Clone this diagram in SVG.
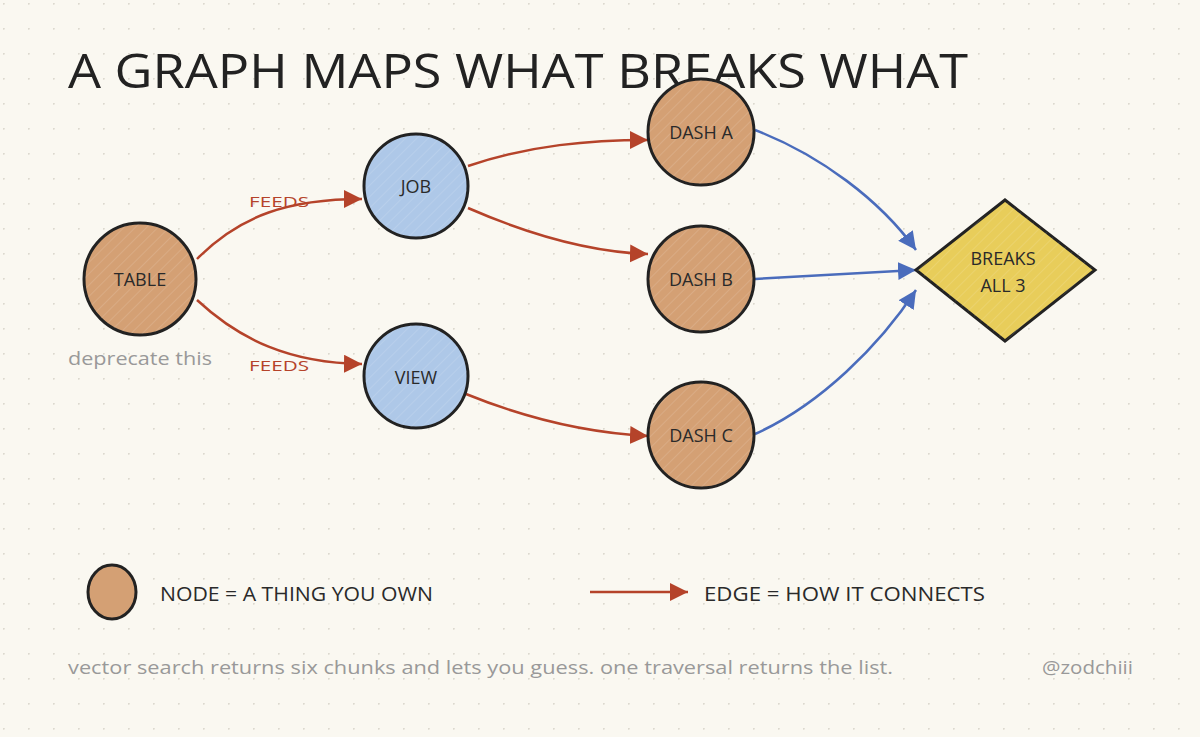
<svg xmlns="http://www.w3.org/2000/svg" width="1200" height="737" viewBox="0 0 1200 737">
<defs>
<pattern id="dots" x="3" y="3" width="25" height="25" patternUnits="userSpaceOnUse"><circle cx="0.8" cy="0.8" r="1" fill="#dcd9cf"/></pattern>
<pattern id="hatch" width="8" height="8" patternUnits="userSpaceOnUse" patternTransform="rotate(45)"><line x1="0" y1="0" x2="0" y2="8" stroke="#ffffff" stroke-opacity="0.12" stroke-width="2"/></pattern>
<marker id="ar" markerUnits="userSpaceOnUse" markerWidth="20" markerHeight="20" refX="18" refY="9" orient="auto"><path d="M0,0 L18,9 L0,18 z" fill="#b5432a"/></marker>
<marker id="ab" markerUnits="userSpaceOnUse" markerWidth="20" markerHeight="20" refX="18" refY="9" orient="auto"><path d="M0,0 L18,9 L0,18 z" fill="#4a6cbc"/></marker>
<style>
.bg{fill:#faf8f1}
.nd{stroke:#222;stroke-width:3}
.or{fill:#d4a074}
.bl{fill:#aec8e8}
.ye{fill:#e8cd5a}
.lbl{font-family:"Open Sans","Liberation Sans",sans-serif;font-size:18px;fill:#2a2a2a;text-anchor:middle;dominant-baseline:central}
.er{fill:none;stroke:#b5432a;stroke-width:2.5;marker-end:url(#ar)}
.eb{fill:none;stroke:#4a6cbc;stroke-width:2.5;marker-end:url(#ab)}
.feeds{font-family:"Open Sans","Liberation Sans",sans-serif;font-size:15px;fill:#b5432a}
.gray{font-family:"Open Sans","Liberation Sans",sans-serif;fill:#999}
.leg{font-family:"Open Sans","Liberation Sans",sans-serif;font-size:20px;fill:#2a2a2a}
</style>
</defs>
<rect class="bg" width="1200" height="737"/>
<rect fill="url(#dots)" width="1200" height="737"/>
<text x="68" y="88" font-family="Open Sans, Liberation Sans, sans-serif" font-size="48" fill="#222" textLength="900" lengthAdjust="spacingAndGlyphs">A GRAPH MAPS WHAT BREAKS WHAT</text>
<g id="connectors">
<path class="er" d="M197,259 C240,215 290,199 362,199"/>
<path class="er" d="M197,300 C240,340 290,363 362,364"/>
<path class="er" d="M468,166 C530,145 590,140 648,140"/>
<path class="er" d="M468,208 C530,235 590,252 648,254"/>
<path class="er" d="M466,394 C530,420 590,433 648,436"/>
<path class="eb" d="M755,130 C820,155 880,200 916,250"/>
<path class="eb" d="M755,279 L916,270"/>
<path class="eb" d="M755,434 C820,405 880,345 916,290"/>
<text class="feeds" x="249" y="207" textLength="60" lengthAdjust="spacingAndGlyphs">FEEDS</text>
<text class="feeds" x="249" y="371" textLength="60" lengthAdjust="spacingAndGlyphs">FEEDS</text>
</g>
<g id="table"><circle class="nd or" cx="140" cy="279" r="56"/><circle cx="140" cy="279" r="55" fill="url(#hatch)"/><text class="lbl" x="140" y="279">TABLE</text>
<text class="gray" x="68" y="365" font-size="19" textLength="144" lengthAdjust="spacingAndGlyphs">deprecate this</text></g>
<g id="job"><circle class="nd bl" cx="416" cy="186" r="52"/><circle cx="416" cy="186" r="51" fill="url(#hatch)"/><text class="lbl" x="416" y="186">JOB</text></g>
<g id="view"><circle class="nd bl" cx="416" cy="376" r="52"/><circle cx="416" cy="376" r="51" fill="url(#hatch)"/><text class="lbl" x="416" y="377">VIEW</text></g>
<g id="dasha"><circle class="nd or" cx="701" cy="132" r="53"/><circle cx="701" cy="132" r="52" fill="url(#hatch)"/><text class="lbl" x="701" y="132" font-size="16">DASH A</text></g>
<g id="dashb"><circle class="nd or" cx="701" cy="279" r="53"/><circle cx="701" cy="279" r="52" fill="url(#hatch)"/><text class="lbl" x="701" y="279" font-size="16">DASH B</text></g>
<g id="dashc"><circle class="nd or" cx="701" cy="435" r="53"/><circle cx="701" cy="435" r="52" fill="url(#hatch)"/><text class="lbl" x="701" y="435" font-size="16">DASH C</text></g>
<g id="breaks"><polygon class="nd ye" points="916,270 1005,200 1095,270 1005,341"/><polygon points="916,270 1005,200 1095,270 1005,341" fill="url(#hatch)"/>
<text class="lbl" x="1003" y="258" font-size="16">BREAKS</text><text class="lbl" x="1003" y="285" font-size="16">ALL 3</text></g>
<g id="legend">
<ellipse class="nd or" cx="112" cy="592" rx="24" ry="27"/>
<text class="leg" x="160" y="601" textLength="273" lengthAdjust="spacingAndGlyphs">NODE = A THING YOU OWN</text>
<path class="er" d="M590,592 L688,592"/>
<text class="leg" x="704" y="601" textLength="281" lengthAdjust="spacingAndGlyphs">EDGE = HOW IT CONNECTS</text>
</g>
<g id="footer">
<text class="gray" x="68" y="674" font-size="19" textLength="825" lengthAdjust="spacingAndGlyphs">vector search returns six chunks and lets you guess. one traversal returns the list.</text>
<text class="gray" x="1042" y="674" font-size="19" textLength="91" lengthAdjust="spacingAndGlyphs">@zodchiii</text>
</g>
</svg>
